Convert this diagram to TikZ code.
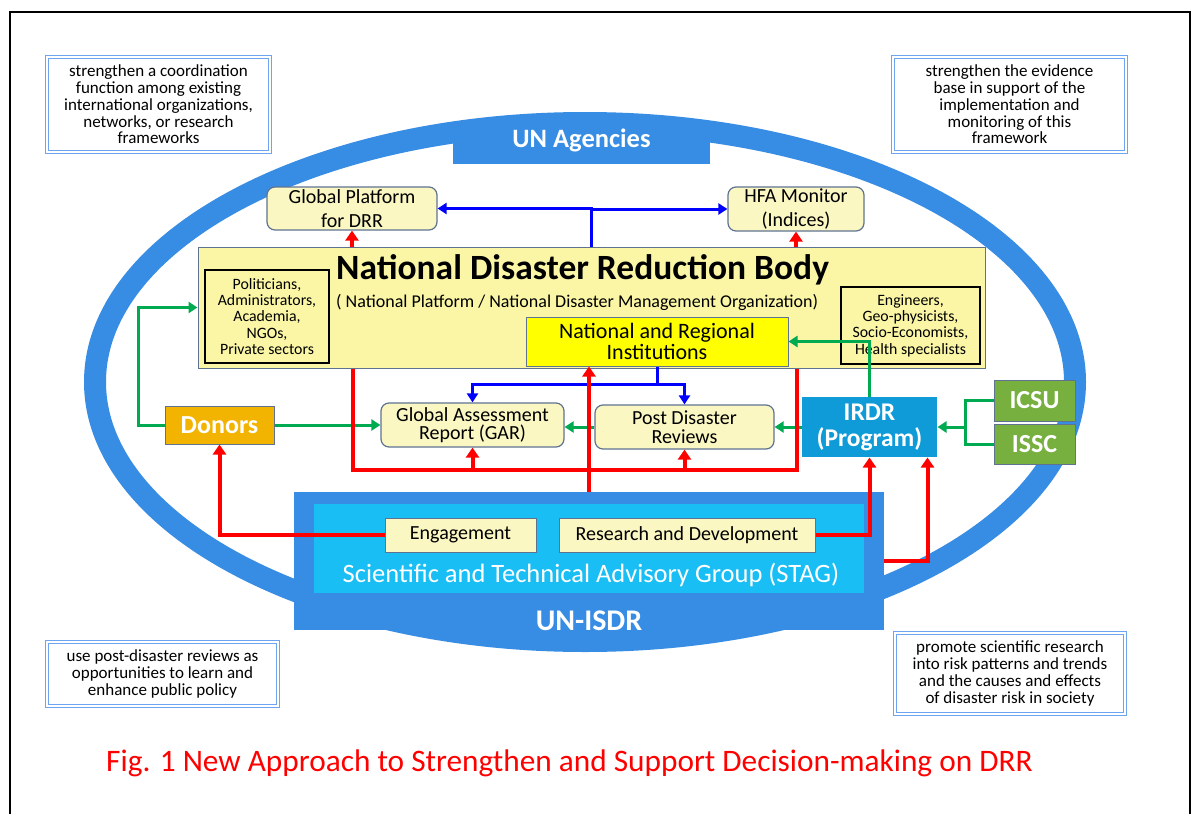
\documentclass[tikz,border=0pt]{standalone}
\usepackage{fontspec}
\setmainfont{Carlito}
\usetikzlibrary{positioning,arrows.meta}

\definecolor{unblue}{RGB}{55,140,228}
\definecolor{stagblue}{RGB}{25,190,245}
\definecolor{irdrblue}{RGB}{15,155,215}
\definecolor{boxgreen}{RGB}{120,176,64}
\definecolor{donorgold}{RGB}{242,180,0}
\definecolor{paleyellow}{RGB}{250,247,195}
\definecolor{bodyyellow}{RGB}{250,246,165}
\definecolor{brightyellow}{RGB}{255,255,0}
\definecolor{edgegray}{RGB}{95,115,145}
\definecolor{noteblue}{RGB}{110,165,240}
\definecolor{arrowred}{RGB}{255,0,0}
\definecolor{arrowblue}{RGB}{0,0,255}
\definecolor{arrowgreen}{RGB}{0,170,80}

\tikzset{
  note/.style={draw=noteblue, double=white, double distance=1.2pt, line width=1pt,
    fill=white, inner sep=0pt, align=center, font=\fontsize{17}{16.7}\selectfont},
  roundbox/.style={draw=edgegray, line width=1.2pt, rounded corners=8pt, fill=paleyellow,
    inner sep=0pt, align=center, font=\fontsize{20}{19}\selectfont},
  flatbox/.style={draw=edgegray, line width=1pt, fill=paleyellow, inner sep=0pt,
    align=center, font=\fontsize{20}{19}\selectfont},
  listbox/.style={draw=black, line width=1.2pt, fill=bodyyellow, inner sep=0pt,
    align=center, font=\fontsize{15.8}{16.3}\selectfont},
  tagbox/.style={draw=edgegray, line width=1pt, inner sep=0pt, align=center,
    text=white, font=\bfseries\fontsize{26}{24}\selectfont},
  whitelabel/.style={text=white, inner sep=0pt, font=\bfseries\fontsize{26.5}{25}\selectfont},
  redline/.style={draw=arrowred, line width=4pt},
  redarrow/.style={redline, -{Triangle[length=10pt,width=13pt]}},
  blueline/.style={draw=arrowblue, line width=3pt},
  bluearrow/.style={blueline, -{Triangle[length=9pt,width=11pt]}},
  greenline/.style={draw=arrowgreen, line width=3pt},
  greenarrow/.style={greenline, -{Triangle[length=9pt,width=11pt]}}
}

\begin{document}
\begin{tikzpicture}[x=1pt,y=-1pt]
  \useasboundingbox (0,0) rectangle (1192,814);
  \fill[white] (0,0) rectangle (1192,814);
  \draw[line width=1.6pt] (10,820) -- (10,12) -- (1190,12) -- (1190,820);

  % outer ring and the two UN labels
  \draw[unblue, line width=22pt] (585,382) ellipse [x radius=490pt, y radius=259pt];
  \node[fill=unblue, minimum width=257pt, minimum height=40pt, inner sep=0pt] (unag) at (581.5,144) {};
  \node[whitelabel] at (581.5,140) {UN Agencies};
  \node[fill=unblue, minimum width=590pt, minimum height=138pt, inner sep=0pt] (unisdr) at (589,561) {};
  \node[whitelabel, font=\bfseries\fontsize{30}{30}\selectfont] at (589,621) {UN-ISDR};
  \node[fill=stagblue, minimum width=550pt, minimum height=89pt, inner sep=0pt] (stag) at (589,548.5) {};
  \node[text=white, inner sep=0pt, font=\fontsize{26.5}{26}\selectfont] at (591,575)
    {Scientific and Technical Advisory Group (STAG)};

  % corner notes
  \node[note, minimum width=223pt, minimum height=95pt] (coordnote) at (158.5,104.5)
    {strengthen a coordination\\function among existing\\international organizations,\\networks, or research\\frameworks};
  \node[note, minimum width=233pt, minimum height=95pt] (evidnote) at (1009.5,104.5)
    {strengthen the evidence\\base in support of the\\implementation and\\monitoring of this\\framework};
  \node[note, minimum width=231pt, minimum height=64pt] (reviewnote) at (162.5,674)
    {use post-disaster reviews as\\opportunities to learn and\\enhance public policy};
  \node[note, minimum width=230pt, minimum height=81pt] (researchnote) at (1010,673.5)
    {promote scientific research\\into risk patterns and trends\\and the causes and effects\\of disaster risk in society};

  % national body
  \node[draw=edgegray, line width=1pt, fill=bodyyellow, minimum width=787pt, minimum height=121pt,
    inner sep=0pt] (ndrb) at (591.5,307.5) {};
  \node[anchor=west, inner sep=0pt, font=\bfseries\fontsize{35.5}{36}\selectfont] (ndrbtitle) at (336,270)
    {National Disaster Reduction Body};
  \node[anchor=west, inner sep=0pt, font=\fontsize{18}{18}\selectfont] (ndrbsub) at (336,302)
    {( National Platform / National Disaster Management Organization)};
  \node[listbox, minimum width=124pt, minimum height=93pt] (actors) at (267,316.5)
    {Politicians,\\Administrators,\\Academia,\\NGOs,\\Private sectors};
  \node[listbox, minimum width=139pt, minimum height=77pt] (experts) at (910.5,325.5)
    {Engineers,\\Geo-physicists,\\Socio-Economists,\\Health specialists};
  \node[flatbox, fill=brightyellow, minimum width=262pt, minimum height=49pt,
    font=\fontsize{22}{21}\selectfont] (niri) at (657,341.5) {National and Regional\\Institutions};

  % platforms and reports
  \node[roundbox, minimum width=170pt, minimum height=43pt, font=\fontsize{20}{24}\selectfont] (gp) at (352,208.5)
    {Global Platform\\for DRR};
  \node[roundbox, minimum width=136pt, minimum height=44pt, font=\fontsize{20}{24}\selectfont] (hfa) at (796,209)
    {HFA Monitor\\(Indices)};
  \node[roundbox, minimum width=183pt, minimum height=44pt, font=\fontsize{20}{18}\selectfont] (gar) at (472.5,425)
    {Global Assessment\\Report (GAR)};
  \node[roundbox, minimum width=179pt, minimum height=44pt] (pdr) at (684.5,427)
    {Post Disaster\\Reviews};
  \node[tagbox, fill=donorgold, minimum width=109pt, minimum height=38pt] (donors) at (219.5,425) {Donors};
  \node[tagbox, draw=none, fill=irdrblue, minimum width=135pt, minimum height=60pt,
    font=\bfseries\fontsize{25.5}{26}\selectfont] (irdr) at (869.5,427) {IRDR\\(Program)};
  \node[tagbox, fill=boxgreen, minimum width=81pt, minimum height=41pt] (icsu) at (1034.5,400.5) {ICSU};
  \node[tagbox, fill=boxgreen, minimum width=81pt, minimum height=40pt, below=2pt of icsu] (issc) {ISSC};
  \node[flatbox, minimum width=151pt, minimum height=34pt] (engage) at (460.5,535) {Engagement};
  \node[flatbox, minimum width=256pt, minimum height=34pt, right=22pt of engage] (rnd) {Research and Development};

  % blue links
  \draw[bluearrow] (ndrb.north) |- (gp.east);
  \draw[bluearrow] (ndrb.north) |- (hfa.west);
  \coordinate (split) at (657,384);
  \draw[blueline] (niri.south) -- (split);
  \draw[bluearrow] (split) -| (gar.north);
  \draw[bluearrow] (split) -| (pdr.north);

  % green links
  \coordinate (gleft) at (138,0);
  \draw[greenarrow] (donors.west) -- (donors.west -| gleft) |- (ndrb.west);
  \draw[greenarrow] (donors.east) -- (gar.west);
  \draw[greenarrow] (pdr.west) -- (pdr.west -| gar.east);
  \draw[greenarrow] (irdr.west) -- (irdr.west -| pdr.east);
  \coordinate (gjoin) at (965,427);
  \draw[greenline] (icsu.west) -| (gjoin);
  \draw[greenline] (issc.west) -| (gjoin);
  \draw[greenarrow] (gjoin) -- (irdr.east);
  \draw[greenarrow] (irdr.north) |- (niri.east);

  % red links
  \draw[redarrow] (ndrb.north -| gp.south) -- (gp.south);
  \draw[redarrow] (ndrb.north -| hfa.south) -- (hfa.south);
  \coordinate (loopL) at (353,470);
  \coordinate (loopR) at (797,470);
  \draw[redline] (ndrb.south -| loopL) -- (loopL) -- (loopR) -- (ndrb.south -| loopR);
  \draw[redarrow] (gar.south |- loopL) -- (gar.south);
  \draw[redarrow] (pdr.south |- loopL) -- (pdr.south);
  \draw[redarrow] (unisdr.north) -- (unisdr.north |- niri.south);
  \draw[redarrow] (engage.west) -| (donors.south);
  \draw[redarrow] (rnd.east) -| (irdr.south);
  \draw[redarrow] (unisdr.east) -| ([xshift=-10pt]irdr.south east);

  \node[text=arrowred, inner sep=0pt, font=\fontsize{31.3}{32}\selectfont] (caption) at (569.5,763)
    {Fig. 1 New Approach to Strengthen and Support Decision-making on DRR};
\end{tikzpicture}
\end{document}
